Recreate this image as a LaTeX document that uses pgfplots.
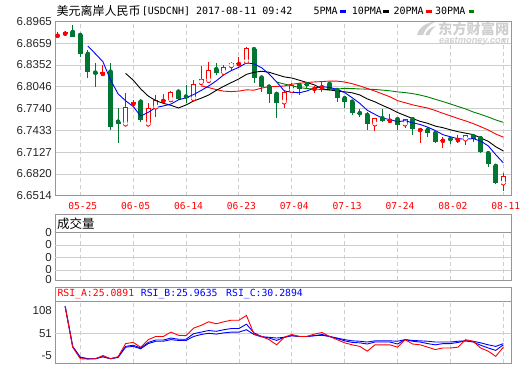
\documentclass[border=0pt]{standalone}
\usepackage{fontspec}
\setmainfont{Liberation Sans}
\newfontfamily\cjk{Noto Sans CJK SC}
\newfontfamily\mono{DejaVu Sans Mono}
\usepackage{pgfplots}
\pgfplotsset{compat=1.18}
\usepackage{pgfplotstable}

\definecolor{cgreen}{RGB}{0,118,50}
\definecolor{mgreen}{RGB}{0,128,0}
\definecolor{gridc}{RGB}{206,206,206}
\definecolor{framec}{RGB}{150,150,150}
\definecolor{wm}{RGB}{208,208,208}

\pgfplotstableread{
i o h l c
0 6.8762 6.8819 6.8726 6.8776
1 6.8791 6.8829 6.8773 6.8815
6 6.8225 6.8351 6.8220 6.8257
10 6.7799 6.7859 6.7789 6.7835
14 6.7847 6.7944 6.7817 6.7861
24 6.8363 6.8468 6.8351 6.8377
34 6.8016 6.8056 6.7953 6.8030
35 6.8038 6.8116 6.7976 6.8056
44 6.7566 6.7663 6.7532 6.7580
48 6.7436 6.7460 6.7259 6.7450
51 6.7286 6.7344 6.7181 6.7300
53 6.7295 6.7367 6.7259 6.7309
}\upsolid

\pgfplotstableread{
i o h l c
9 6.7518 6.7953 6.7515 6.7757
12 6.7518 6.7821 6.7515 6.7743
13 6.7757 6.7930 6.7625 6.7859
15 6.7859 6.7990 6.7855 6.7967
18 6.7873 6.8140 6.7870 6.8080
19 6.8102 6.8337 6.8084 6.8150
20 6.8130 6.8397 6.8125 6.8281
22 6.8243 6.8351 6.8210 6.8319
23 6.8337 6.8397 6.8281 6.8383
25 6.8397 6.8608 6.8395 6.8594
30 6.7827 6.8000 6.7743 6.7967
31 6.7990 6.8098 6.7972 6.8070
42 6.7518 6.7602 6.7428 6.7602
46 6.7518 6.7595 6.7466 6.7588
54 6.7307 6.7370 6.7227 6.7367
59 6.6689 6.6829 6.6585 6.6792
}\uphollow

\pgfplotstableread{
i o h l c
2 6.8815 6.8913 6.8745 6.8749
3 6.8773 6.8796 6.8468 6.8501
4 6.8506 6.8562 6.8164 6.8248
5 6.8244 6.8375 6.8046 6.8230
7 6.8257 6.8375 6.7438 6.7476
8 6.7554 6.7743 6.7251 6.7518
11 6.7835 6.7840 6.7554 6.7578
16 6.7976 6.7990 6.7859 6.7873
17 6.7907 6.8070 6.7817 6.7893
21 6.8291 6.8383 6.8210 6.8234
26 6.8572 6.8608 6.8094 6.8164
27 6.8173 6.8196 6.7976 6.8046
28 6.8046 6.8070 6.7813 6.7944
29 6.7944 6.7976 6.7602 6.7813
32 6.8070 6.8098 6.7929 6.8010
33 6.8082 6.8098 6.8024 6.8068
36 6.8084 6.8116 6.8000 6.8010
37 6.8000 6.8005 6.7835 6.7883
38 6.7883 6.7890 6.7743 6.7835
39 6.7835 6.7840 6.7649 6.7673
40 6.7674 6.7729 6.7617 6.7660
41 6.7649 6.7695 6.7438 6.7518
43 6.7602 6.7729 6.7555 6.7564
45 6.7588 6.7592 6.7438 6.7508
47 6.7588 6.7592 6.7368 6.7448
49 6.7438 6.7484 6.7344 6.7391
50 6.7391 6.7395 6.7259 6.7273
52 6.7309 6.7325 6.7240 6.7295
55 6.7353 6.7355 6.7273 6.7307
56 6.7321 6.7344 6.7110 6.7133
57 6.7110 6.7133 6.6914 6.6960
58 6.6932 6.6935 6.6675 6.6689
}\downc

\pgfplotstableread{
i v
4 6.8618
5 6.8509
6 6.8397
7 6.8143
8 6.7946
9 6.7848
10 6.7769
11 6.7633
12 6.7686
13 6.7754
14 6.7775
15 6.7802
16 6.7861
17 6.7891
18 6.7935
19 6.7993
20 6.8056
21 6.8128
22 6.8213
23 6.8273
24 6.8319
25 6.8381
26 6.8367
27 6.8313
28 6.8225
29 6.8112
30 6.7987
31 6.7968
32 6.7961
33 6.7986
34 6.8029
35 6.8047
36 6.8035
37 6.8009
38 6.7963
39 6.7891
40 6.7812
41 6.7714
42 6.7658
43 6.7603
44 6.7585
45 6.7554
46 6.7568
47 6.7538
48 6.7515
49 6.7477
50 6.7430
51 6.7372
52 6.7342
53 6.7314
54 6.7309
55 6.7316
56 6.7282
57 6.7215
58 6.7091
59 6.6976
}\maA

\pgfplotstableread{
i v
9 6.8233
10 6.8139
11 6.8015
12 6.7914
13 6.7850
14 6.7812
15 6.7785
16 6.7747
17 6.7789
18 6.7845
19 6.7884
20 6.7929
21 6.7994
22 6.8052
23 6.8104
24 6.8156
25 6.8219
26 6.8248
27 6.8263
28 6.8249
29 6.8216
30 6.8184
31 6.8168
32 6.8137
33 6.8105
34 6.8071
35 6.8017
36 6.8001
37 6.7985
38 6.7974
39 6.7960
40 6.7930
41 6.7874
42 6.7834
43 6.7783
44 6.7738
45 6.7683
46 6.7641
47 6.7598
48 6.7559
49 6.7531
50 6.7492
51 6.7470
52 6.7440
53 6.7414
54 6.7393
55 6.7373
56 6.7327
57 6.7279
58 6.7202
59 6.7143
}\maB

\pgfplotstableread{
i v
19 6.8058
20 6.8034
21 6.8005
22 6.7983
23 6.7977
24 6.7984
25 6.8002
26 6.7997
27 6.8026
28 6.8047
29 6.8050
30 6.8056
31 6.8081
32 6.8094
33 6.8105
34 6.8113
35 6.8118
36 6.8125
37 6.8124
38 6.8112
39 6.8088
40 6.8057
41 6.8021
42 6.7985
43 6.7944
44 6.7904
45 6.7850
46 6.7821
47 6.7791
48 6.7767
49 6.7746
50 6.7711
51 6.7672
52 6.7637
53 6.7599
54 6.7566
55 6.7528
56 6.7484
57 6.7438
58 6.7381
59 6.7337
}\maC

\pgfplotstableread{
i v
29 6.8111
30 6.8084
31 6.8059
32 6.8034
33 6.8020
34 6.8013
35 6.8007
36 6.7999
37 6.8012
38 6.8023
39 6.8020
40 6.8014
41 6.8012
42 6.8007
43 6.7998
44 6.7988
45 6.7973
46 6.7963
47 6.7949
48 6.7928
49 6.7902
50 6.7869
51 6.7837
52 6.7803
53 6.7768
54 6.7734
55 6.7691
56 6.7657
57 6.7620
58 6.7579
59 6.7545
}\maD

\pgfplotstableread{
i a b c
1 119 119 119
2 16 17 18
3 -13 -10 -9
4 -14 -13 -13
5 -13 -13 -13
6 -5 -8 -8
7 -13 -13 -13
8 -8 -9 -10
9 25 18 16
10 28 21 18
11 16 14 12
12 35 28 25
13 43 34 31
14 43 34 31
15 54 39 35
16 46 36 33
17 45 36 33
18 64 50 43
19 71 54 48
20 80 58 51
21 75 56 49
22 80 60 52
23 84 63 54
24 84 63 54
25 96 74 60
26 49 52 48
27 43 43 42
28 35 39 41
29 22 33 39
30 41 41 41
31 48 45 45
32 43 43 43
33 43 43 43
34 49 45 45
35 53 48 46
36 43 43 43
37 35 38 39
38 27 32 35
39 22 28 32
40 18 27 31
41 6 24 29
42 22 29 32
43 22 29 32
44 22 29 32
45 16 24 31
46 35 35 35
47 24 31 33
48 22 29 32
49 16 25 31
50 10 22 29
51 14 25 29
52 14 25 29
53 16 28 31
54 35 32 32
55 31 29 31
56 14 21 27
57 6 14 22
58 -7 8 18
59 16 22 25
}\rsidata

\pgfplotsset{
  panel/.style={
    scale only axis,
    xmin=-0.344, xmax=60.02,
    axis line style={framec, line width=0.8pt},
    major tick length=0pt,
    xtick={3,10,17,24,31,38,45,52,59},
    xmajorgrids,
    x grid style={gridc, line width=0.8pt, dash pattern=on 4pt off 3pt},
    y grid style={gridc, line width=0.8pt},
    yticklabel style={font=\fontsize{11.5}{12}\selectfont, text=black!85, inner sep=0pt, xshift=-3pt},
  },
}

\begin{document}
\begin{tikzpicture}[x=1pt,y=1pt]
\useasboundingbox (0,0) rectangle (520,-365);

% title and legend
\node[anchor=base west, inner sep=0pt] at (56.5,-15) {\fontsize{12}{12}\cjk 美元离岸人民币};
\node[anchor=base west, inner sep=0pt] at (141.7,-14.5) {\fontsize{10}{10}\mono [USDCNH] 2017-08-11 09:42};
\node[anchor=base west, inner sep=0pt] at (313.3,-14.5) {\fontsize{10}{10}\mono 5PMA};
\fill[blue] (340,-10.3) rectangle (345.7,-13.3);
\node[anchor=base west, inner sep=0pt] at (351.7,-14.5) {\fontsize{10}{10}\mono 10PMA};
\fill[black] (383,-10.3) rectangle (388.7,-13.3);
\node[anchor=base west, inner sep=0pt] at (393.3,-14.5) {\fontsize{10}{10}\mono 20PMA};
\fill[red] (426,-10.3) rectangle (431.7,-13.3);
\node[anchor=base west, inner sep=0pt] at (435,-14.5) {\fontsize{10}{10}\mono 30PMA};
\fill[mgreen] (468.5,-10.3) rectangle (474.2,-13.3);

% watermark
\fill[wm] (417,-35) .. controls (419,-27) and (426,-22.5) .. (436,-21.5) .. controls (429,-24.5) and (425,-29) .. (423,-35) -- cycle;
\fill[wm] (425,-35) .. controls (427,-30) and (431,-27) .. (436,-26) .. controls (432,-29) and (430,-32) .. (429.5,-35) -- cycle;
\node[anchor=north west, inner sep=0pt, text=wm] at (438,-21.8) {\fontsize{14.2}{14.2}\cjk\bfseries 东方财富网};
\node[anchor=north west, inner sep=0pt, text=wm] at (439,-37) {\fontsize{9.3}{9.3}\selectfont\bfseries\itshape eastmoney.com};

% main panel
\begin{axis}[panel, at={(55pt,-21.3pt)}, anchor=north west,
  width=456pt, height=174.4pt,
  ymin=6.6514, ymax=6.8965,
  ytick={6.6514,6.6820,6.7127,6.7433,6.7740,6.8046,6.8352,6.8659,6.8965},
  yticklabels={6.6514,6.6820,6.7127,6.7433,6.7740,6.8046,6.8352,6.8659,6.8965},
  ymajorgrids,
  xticklabels={05-25,06-05,06-14,06-23,07-04,07-13,07-24,08-02,08-11},
  xticklabel style={text=red, font=\fontsize{9.6}{10}\mono, anchor=north, inner sep=0pt, yshift=-6pt, xshift=2.5pt},
]
% wicks
\addplot[red, only marks, mark=none, forget plot,
  error bars/.cd, y dir=both, y explicit, error mark=none,
  error bar style={solid, draw=red, line width=1pt}]
  table[x=i, y=o, y error plus expr=\thisrow{h}-\thisrow{o}, y error minus expr=\thisrow{o}-\thisrow{l}] {\upsolid};
\addplot[red, only marks, mark=none, forget plot,
  error bars/.cd, y dir=both, y explicit, error mark=none,
  error bar style={solid, draw=red, line width=1pt}]
  table[x=i, y=o, y error plus expr=\thisrow{h}-\thisrow{o}, y error minus expr=\thisrow{o}-\thisrow{l}] {\uphollow};
\addplot[cgreen, only marks, mark=none, forget plot,
  error bars/.cd, y dir=both, y explicit, error mark=none,
  error bar style={solid, draw=cgreen, line width=1pt}]
  table[x=i, y=o, y error plus expr=\thisrow{h}-\thisrow{o}, y error minus expr=\thisrow{o}-\thisrow{l}] {\downc};
% bodies
\addplot[cgreen, only marks, mark=none, forget plot,
  error bars/.cd, y dir=minus, y explicit, error mark=none,
  error bar style={solid, draw=cgreen, line width=5pt}]
  table[x=i, y=o, y error minus expr=\thisrow{o}-\thisrow{c}] {\downc};
\addplot[red, only marks, mark=none, forget plot,
  error bars/.cd, y dir=plus, y explicit, error mark=none,
  error bar style={solid, draw=red, line width=5pt}]
  table[x=i, y=o, y error plus expr=\thisrow{c}-\thisrow{o}] {\upsolid};
\addplot[red, only marks, mark=none, forget plot,
  error bars/.cd, y dir=plus, y explicit, error mark=none,
  error bar style={solid, draw=red, line width=5pt}]
  table[x=i, y=o, y error plus expr=\thisrow{c}-\thisrow{o}] {\uphollow};
\addplot[white, only marks, mark=none, forget plot,
  error bars/.cd, y dir=plus, y explicit, error mark=none,
  error bar style={solid, draw=white, line width=3pt}]
  table[x=i, y expr=\thisrow{o}+0.0014, y error plus expr=\thisrow{c}-\thisrow{o}-0.0028] {\uphollow};
% moving averages
\addplot[mgreen, line width=0.9pt, no marks] table[x=i, y=v] {\maD};
\addplot[red, line width=0.9pt, no marks] table[x=i, y=v] {\maC};
\addplot[black, line width=0.9pt, no marks] table[x=i, y=v] {\maB};
\addplot[blue, line width=0.9pt, no marks] table[x=i, y=v] {\maA};
\end{axis}

% volume panel
\draw[framec, line width=0.8pt] (55,-214.3) rectangle (511,-232.3);
\node[anchor=west, inner sep=0pt] at (57,-223.5) {\fontsize{12.5}{12.5}\cjk 成交量};
\begin{axis}[panel, at={(55pt,-232.3pt)}, anchor=north west,
  width=456pt, height=47.7pt,
  ymin=0, ymax=47.7,
  ytick={0,10,22.7,35,47.3},
  yticklabels={0,0,0,0,0},
  extra y ticks={10,22.7,35},
  extra y tick labels={},
  extra y tick style={ymajorgrids=true},
  xticklabels={},
]
\end{axis}

% RSI panel
\draw[framec, line width=0.8pt] (55,-287.3) rectangle (511,-301.7);
\node[anchor=west, inner sep=0pt, text=red] at (57.3,-294.3) {\fontsize{9.8}{10}\mono RSI\_A:25.0891};
\node[anchor=west, inner sep=0pt, text=blue] at (140.7,-294.3) {\fontsize{9.8}{10}\mono RSI\_B:25.9635};
\node[anchor=west, inner sep=0pt, text=blue] at (226,-294.3) {\fontsize{9.8}{10}\mono RSI\_C:30.2894};
\begin{axis}[panel, at={(55pt,-301.7pt)}, anchor=north west,
  width=456pt, height=61.6pt,
  ymin=-24.6, ymax=130.6,
  ytick={-5,51,108},
  yticklabels={-5,51,108},
  extra y ticks={51},
  extra y tick labels={},
  extra y tick style={ymajorgrids=true},
  xticklabels={},
]
\addplot[blue, line width=0.9pt, no marks] table[x=i, y=c] {\rsidata};
\addplot[blue, line width=0.9pt, no marks] table[x=i, y=b] {\rsidata};
\addplot[red, line width=0.9pt, no marks] table[x=i, y=a] {\rsidata};
\end{axis}
\end{tikzpicture}
\end{document}
